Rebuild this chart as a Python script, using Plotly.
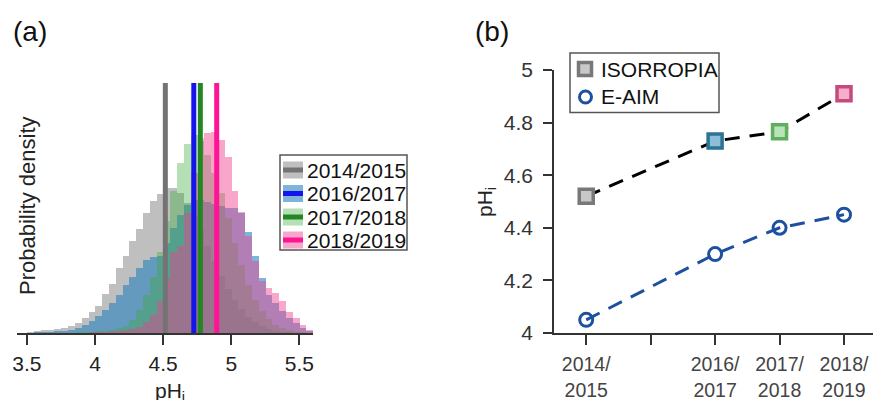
import plotly.graph_objects as go

# ---------------- data ----------------
# panel (a): histogram bins (left edges, pH units, bin width 0.05)
bin_left = [3.50, 3.55, 3.60, 3.65, 3.70, 3.75, 3.80, 3.85, 3.90, 3.95,
            4.00, 4.05, 4.10, 4.15, 4.20, 4.25, 4.30, 4.35, 4.40, 4.45,
            4.50, 4.55, 4.60, 4.65, 4.70, 4.75, 4.80, 4.85, 4.90, 4.95,
            5.00, 5.05, 5.10, 5.15, 5.20, 5.25, 5.30, 5.35, 5.40, 5.45,
            5.50, 5.55]
bin_width = 0.05

dens_2014 = [0.013, 0.02, 0.03, 0.035, 0.04, 0.047, 0.073, 0.103, 0.153, 0.207,
             0.27, 0.387, 0.493, 0.653, 0.77, 0.92, 1.04, 1.20, 1.32, 1.39,
             1.45, 1.45, 1.40, 1.30, 1.18, 1.03, 0.87, 0.72, 0.57, 0.44,
             0.33, 0.24, 0.16, 0.11, 0.07, 0.04, 0.025, 0.015, 0.01, 0.005,
             0.003, 0.002]
dens_2016 = [0.005, 0.007, 0.01, 0.013, 0.017, 0.022, 0.03, 0.05, 0.08, 0.12,
             0.17, 0.23, 0.30, 0.38, 0.48, 0.56, 0.65, 0.73, 0.76, 0.77,
             0.90, 1.05, 1.18, 1.28, 1.33, 1.33, 1.31, 1.29, 1.27, 1.25,
             1.25, 1.20, 1.01, 0.77, 0.55, 0.38, 0.30, 0.22, 0.15, 0.10,
             0.05, 0.02]
dens_2017 = [0.001, 0.001, 0.002, 0.002, 0.003, 0.004, 0.005, 0.007, 0.01, 0.013,
             0.018, 0.025, 0.035, 0.05, 0.07, 0.13, 0.23, 0.38, 0.56, 0.81,
             1.12, 1.42, 1.70, 1.89, 1.98, 1.95, 1.78, 1.60, 1.40, 1.15,
             0.90, 0.68, 0.48, 0.33, 0.22, 0.14, 0.08, 0.05, 0.03, 0.02,
             0.01, 0.005]
dens_2018 = [0.0, 0.0, 0.001, 0.001, 0.002, 0.002, 0.003, 0.004, 0.005, 0.007,
             0.009, 0.012, 0.016, 0.022, 0.03, 0.04, 0.06, 0.11, 0.18, 0.32,
             0.55, 0.81, 0.87, 1.20, 1.60, 1.92, 2.00, 2.01, 1.93, 1.76,
             1.42, 1.21, 0.97, 0.72, 0.52, 0.45, 0.40, 0.32, 0.21, 0.15,
             0.08, 0.03]

season_labels = ["2014/2015", "2016/2017", "2017/2018", "2018/2019"]
center_ph = [4.516, 4.725, 4.773, 4.893]

# panel (b)
years = [2014, 2016, 2017, 2018]
isorropia = [4.52, 4.73, 4.765, 4.91]
eaim = [4.05, 4.30, 4.40, 4.45]
model_names = ["ISORROPIA", "E-AIM"]
xb_ticks = [2014, 2015, 2016, 2017, 2018]
xb_ticktext = ["2014/<br>2015", "", "2016/<br>2017", "2017/<br>2018", "2018/<br>2019"]
yb_ticks = [4.0, 4.2, 4.4, 4.6, 4.8, 5.0]
yb_ticktext = ["4", "4.2", "4.4", "4.6", "4.8", "5"]
xa_ticks = [3.5, 4.0, 4.5, 5.0, 5.5]
xa_ticktext = ["3.5", "4", "4.5", "5", "5.5"]

# ---------------- styles ----------------
W, H = 873, 400
FONT = "Liberation Sans, Arial, sans-serif"
hist_fill = ["rgba(128,128,128,0.5)", "rgba(40,130,190,0.6)",
             "rgba(60,170,60,0.38)", "rgba(240,60,140,0.45)"]
line_col = ["rgb(115,115,115)", "rgb(20,20,235)", "rgb(34,135,34)", "rgb(255,20,150)"]
sq_fill = ["rgb(200,200,200)", "rgb(140,190,215)", "rgb(185,228,185)", "rgb(245,175,205)"]
sq_edge = ["rgb(120,120,120)", "rgb(45,115,150)", "rgb(95,175,95)", "rgb(195,75,125)"]
eaim_col = "rgb(30,80,160)"

def px(x):
    return x / W

def py(y):
    return 1 - y / H

fig = go.Figure()

centers = [b + bin_width / 2 for b in bin_left]
for lab, dens, col in zip(season_labels, [dens_2014, dens_2016, dens_2017, dens_2018], hist_fill):
    fig.add_trace(go.Bar(x=centers, y=dens, width=bin_width, marker=dict(color=col, line=dict(width=0)),
                         name=lab, showlegend=False, xaxis="x", yaxis="y", hoverinfo="skip"))

shapes = []
for m, c in zip(center_ph, line_col):
    shapes.append(dict(type="line", xref="x", yref="y domain", x0=m, x1=m, y0=0, y1=1,
                       line=dict(color=c, width=5), layer="above"))

# panel (b) traces
fig.add_trace(go.Scatter(x=years, y=isorropia, mode="lines", line=dict(color="black", width=3, dash="15px,10px"),
                         showlegend=False, xaxis="x2", yaxis="y2", hoverinfo="skip"))
fig.add_trace(go.Scatter(x=years, y=eaim, mode="lines", line=dict(color=eaim_col, width=3, dash="15px,10px"),
                         showlegend=False, xaxis="x2", yaxis="y2", hoverinfo="skip"))
fig.add_trace(go.Scatter(x=years, y=isorropia, mode="markers", name=model_names[0], showlegend=False,
                         marker=dict(symbol="square", size=14, color=sq_fill,
                                     line=dict(color=sq_edge, width=3.5)),
                         xaxis="x2", yaxis="y2"))
fig.add_trace(go.Scatter(x=years, y=eaim, mode="markers", name=model_names[1], showlegend=False,
                         marker=dict(symbol="circle-open", size=13, color=eaim_col,
                                     line=dict(color=eaim_col, width=3)),
                         xaxis="x2", yaxis="y2"))

annotations = []

# manual legend for panel (a)
box = (280, 155, 407, 250)
shapes.append(dict(type="rect", xref="paper", yref="paper", x0=px(box[0]), x1=px(box[2]),
                   y0=py(box[3]), y1=py(box[1]), line=dict(color="#555", width=1.5),
                   fillcolor="white", layer="above"))
row_y = [170, 193.5, 217, 240]
for lab, fill, lc, ry in zip(season_labels, hist_fill, line_col, row_y):
    shapes.append(dict(type="rect", xref="paper", yref="paper", x0=px(283), x1=px(303),
                       y0=py(ry + 8.5), y1=py(ry - 8.5), line=dict(width=0), fillcolor=fill, layer="above"))
    shapes.append(dict(type="rect", xref="paper", yref="paper", x0=px(283), x1=px(303),
                       y0=py(ry + 2.5), y1=py(ry - 2.5), line=dict(width=0), fillcolor=lc, layer="above"))
    annotations.append(dict(xref="paper", yref="paper", x=px(305), y=py(ry), text=lab, showarrow=False,
                            xanchor="left", yanchor="middle", font=dict(size=21, color="#111")))

# manual legend for panel (b)
shapes.append(dict(type="rect", xref="paper", yref="paper", x0=px(570), x1=px(719),
                   y0=py(112.5), y1=py(53), line=dict(color="#555", width=1.5),
                   fillcolor="white", layer="above"))
shapes.append(dict(type="rect", xref="paper", yref="paper", x0=px(578.5), x1=px(591.5),
                   y0=py(75.5), y1=py(62.5), line=dict(color=sq_edge[0], width=3.5),
                   fillcolor=sq_fill[0], layer="above"))
shapes.append(dict(type="circle", xref="paper", yref="paper", x0=px(579.5), x1=px(591.5),
                   y0=py(103), y1=py(91), line=dict(color=eaim_col, width=3),
                   fillcolor="rgba(0,0,0,0)", layer="above"))
for name, ry in zip(model_names, [69, 97]):
    annotations.append(dict(xref="paper", yref="paper", x=px(599), y=py(ry), text=name, showarrow=False,
                            xanchor="left", yanchor="middle", font=dict(size=21, color="#111")))

# titles / labels
annotations += [
    dict(xref="paper", yref="paper", x=px(30), y=py(31), text="(a)", showarrow=False,
         xanchor="center", yanchor="middle", font=dict(size=28, color="#111")),
    dict(xref="paper", yref="paper", x=px(492), y=py(31), text="(b)", showarrow=False,
         xanchor="center", yanchor="middle", font=dict(size=28, color="#111")),
    dict(xref="paper", yref="paper", x=px(27), y=py(206), text="Probability density", showarrow=False,
         textangle=-90, xanchor="center", yanchor="middle", font=dict(size=22, color="#222")),
    dict(xref="paper", yref="paper", x=px(170), y=py(377), text="pH<sub>i</sub>", showarrow=False,
         xanchor="center", yanchor="top", font=dict(size=21, color="#222")),
    dict(xref="paper", yref="paper", x=px(486), y=py(202), text="pH<sub>i</sub>", showarrow=False,
         textangle=-90, xanchor="center", yanchor="middle", font=dict(size=21, color="#222")),
]

axis_common = dict(ticks="outside", showline=True, linecolor="#333", linewidth=1.5, automargin=False,
                   tickcolor="#333", tickwidth=1.5, showgrid=False, zeroline=False)

fig.update_layout(
    width=W, height=H,
    margin=dict(l=0, r=0, t=0, b=0, pad=0),
    paper_bgcolor="white", plot_bgcolor="white",
    font=dict(family=FONT, size=21, color="#222"),
    barmode="overlay", bargap=0, showlegend=False,
    xaxis=dict(domain=[px(16.7), px(313)], range=[3.425, 5.6], anchor="y",
               tickvals=xa_ticks, ticktext=xa_ticktext, ticklen=10, ticklabelstandoff=1,
               tickfont=dict(size=21, color="#222"), **axis_common),
    yaxis=dict(domain=[py(333), py(83)], range=[0, 2.5], anchor="x", visible=False),
    xaxis2=dict(domain=[px(554), 1.0], range=[2013.5, 2018.45], anchor="y2",
                tickvals=xb_ticks, ticktext=xb_ticktext, ticklen=10, ticklabelstandoff=3,
                tickfont=dict(size=19.5, color="#444"), **axis_common),
    yaxis2=dict(domain=[py(333), py(70)], range=[4, 5], anchor="x2",
                tickvals=yb_ticks, ticktext=yb_ticktext, ticklen=9, ticklabelstandoff=6,
                tickfont=dict(size=21, color="#333"), **axis_common),
    shapes=shapes, annotations=annotations,
)

fig.write_html("out.html", config={"displayModeBar": False},
               post_script="document.body.style.margin='0';document.body.style.overflow='hidden';")
